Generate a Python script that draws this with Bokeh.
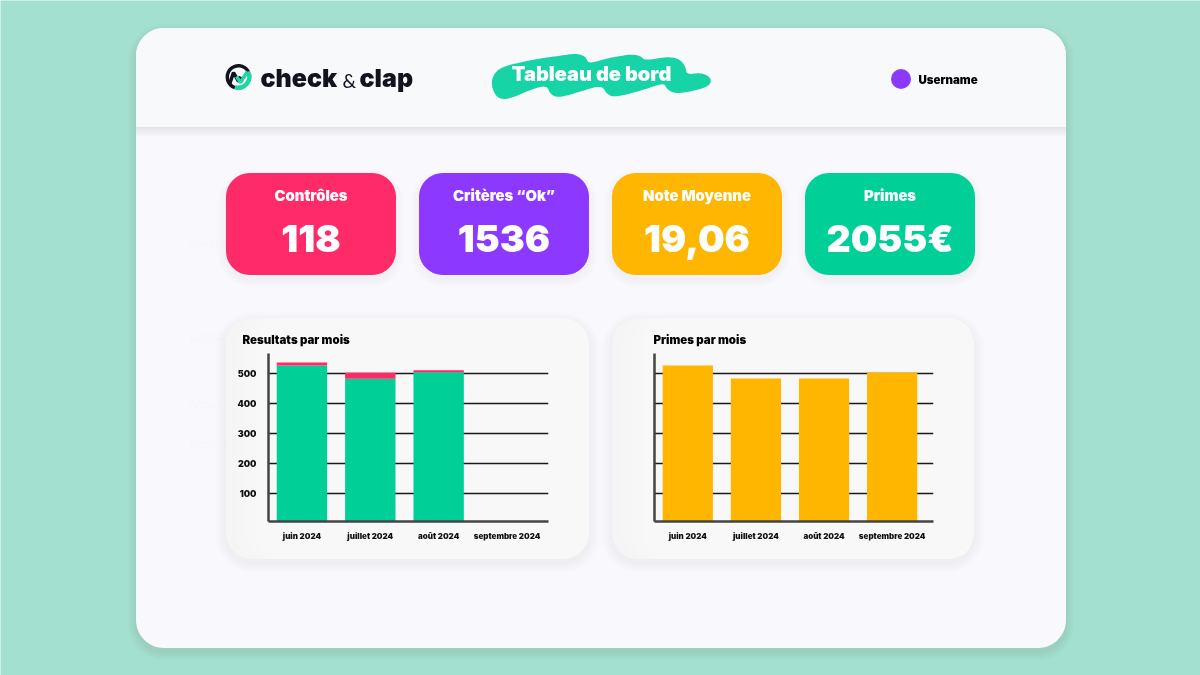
import numpy as np
from bokeh.core.properties import value
from bokeh.embed import file_html
from bokeh.models import FixedTicker, Range1d, Title
from bokeh.plotting import figure
from bokeh.resources import INLINE

# kpi cards
kpi_labels = ["Contrôles", "Critères “Ok”", "Note Moyenne", "Primes"]
kpi_values = ["118", "1536", "19,06", "2055€"]
kpi_colors = ["#ff2a68", "#8c38ff", "#ffb600", "#00d097"]
kpi_left = [225.5, 418.5, 611.5, 804.5]

# charts
months = ["juin 2024", "juillet 2024", "août 2024", "septembre 2024"]
res_ok = [526, 482, 504, 0]
res_ko = [10, 20, 6, 0]
primes = [526, 483, 483, 503]
y_ticks = [100, 200, 300, 400, 500]

# the menu that shows through faintly behind the cards
ghost_labels = ["Contrôles", "Calendrier", "Reports", "Account", "Settings"]
ghost_y = [242, 335, 340, 403, 443]

FONT = "Inter Black, Inter"


def rounded(x0, y0, x1, y1, r, corners=(1, 1, 1, 1)):
    # outline of a rounded box, page pixels with y going down
    xs, ys = [], []
    centres = [(x0 + r, y0 + r, 180), (x1 - r, y0 + r, 270), (x1 - r, y1 - r, 0), (x0 + r, y1 - r, 90)]
    boxes = [(x0, y0), (x1, y0), (x1, y1), (x0, y1)]
    for (cx, cy, a), on, box_pt in zip(centres, corners, boxes):
        if on:
            t = np.radians(np.linspace(a, a + 90, 14))
            xs += list(cx + r * np.cos(t))
            ys += list(cy + r * np.sin(t))
        else:
            xs.append(box_pt[0])
            ys.append(box_pt[1])
    return xs, ys


def box(p, x0, y0, x1, y1, r, color, shadow=0, corners=(1, 1, 1, 1), drop=4, alpha=0.006):
    for i in range(shadow, 0, -1):
        xs, ys = rounded(x0 - i, y0 - i + drop, x1 + i, y1 + i + drop, r + i, corners)
        p.patch(xs, ys, color="#50607a", alpha=alpha, line_color=None)
    xs, ys = rounded(x0, y0, x1, y1, r, corners)
    p.patch(xs, ys, color=color, line_color=None)


def smooth(pts, n=3):
    pts = np.array(pts, dtype=float)
    for _ in range(n):
        nxt = np.roll(pts, -1, axis=0)
        pts = np.column_stack([0.75 * pts + 0.25 * nxt, 0.25 * pts + 0.75 * nxt]).reshape(-1, 2)
    return pts


def text(p, x, y, s, size, color="#000000", align="center", style="bold", font=FONT):
    p.text([x], [y], [s], text_font=value(font), text_font_size=f"{size}px", text_font_style=style,
           text_color=color, text_align=align, text_baseline="middle")


page = figure(width=1200, height=675, x_range=(0, 1200), y_range=(675, 0), output_backend="svg",
              toolbar_location=None, min_border=0, background_fill_color="#a3e0cf",
              border_fill_color="#a3e0cf", outline_line_color=None)
page.axis.visible = False
page.grid.visible = False
page.styles = {"position": "fixed", "left": "0px", "top": "0px"}

box(page, 135.5, 27.5, 1065.5, 647.5, 28, "#f8f8fd", shadow=8, alpha=0.01)
for label, gy in zip(ghost_labels, ghost_y):
    text(page, 189, gy, label, 10, "#f5f5fa", "left", "normal", font="Inter")

# header with its shadow falling on the page only
for i in range(10, 0, -1):
    page.quad(left=[135.5], right=[1065.5], top=[100], bottom=[126.5 + i], color="#50607a", alpha=0.012, line_color=None)
box(page, 135.5, 27.5, 1065.5, 126.5, 28, "#f8f9fb", corners=(1, 1, 0, 0))

# logo
page.annular_wedge([238], [76.5], inner_radius=8.5, outer_radius=13, start_angle=[-1.9], end_angle=[0.5],
                   color="#1dd6a4", line_color=None)
page.annular_wedge([238], [76.5], inner_radius=9.5, outer_radius=13, start_angle=[0.5], end_angle=[4.38],
                   color="#11131f", line_color=None)
page.line([229, 233, 238, 240], [84, 72, 81, 76], line_color="#11131f", line_width=3.5)
page.line([236, 240, 247], [76, 82, 71], line_color="#1dd6a4", line_width=3.5)
text(page, 260, 77, "check", 25, "#11131f", "left")
text(page, 342, 80, "&", 19, "#11131f", "left", "normal", font="Lato")
text(page, 359, 77, "clap", 25, "#11131f", "left")

# title blob
blob = [(842, 130), (855, 95), (885, 78), (960, 60), (1050, 47), (1100, 40), (1128, 50), (1135, 72),
        (1190, 55), (1265, 42), (1292, 48), (1305, 62), (1370, 50), (1408, 56), (1427, 80), (1430, 104),
        (1470, 98), (1497, 108), (1505, 125), (1490, 142), (1440, 155), (1395, 161), (1370, 147),
        (1362, 128), (1300, 150), (1215, 172), (1190, 162), (1175, 135), (1110, 155), (1045, 174),
        (1020, 162), (1010, 135), (960, 150), (890, 180), (858, 172)]
blob = smooth(blob)
page.patch(blob[:, 0] / 3 + 209.5, blob[:, 1] / 3 + 39.5, color="#17d4a6", line_color=None)
text(page, 591, 73, "Tableau de bord", 20, "#ffffff")

# user
page.scatter([900.5], [78.5], size=20, color="#8c38ff", line_color=None)
text(page, 918, 79, "Username", 11.5, "#000000", "left")

# kpi
for left, label, val, color in zip(kpi_left, kpi_labels, kpi_values, kpi_colors):
    box(page, left, 172.5, left + 170, 274.5, 24, color, shadow=8)
    text(page, left + 85, 195, label, 14.8, "#ffffff")
    text(page, left + 85, 237.5, val, 37.5, "#ffffff")


# chart cards, going from grey on the left to white on the right
def chart_card(x0, x1):
    box(page, x0, 317.5, x1, 558.5, 26, "#f5f5f6", shadow=10)
    for k in range(1, 21):
        xs, ys = rounded(x0 + k * 10, 317.5, x1, 558.5, 26)
        page.patch(xs, ys, color="#ffffff", alpha=0.12, line_color=None)


chart_card(225.5, 588.5)
chart_card(611.5, 973.5)


def chart(left, title, offset, y_labels, width):
    c = figure(width=width, height=241, x_range=Range1d(-0.489, 3.607), y_range=Range1d(8, 566),
               output_backend="svg", toolbar_location=None, min_border_left=42, min_border_right=41,
               min_border_top=35, min_border_bottom=38, background_fill_alpha=0, border_fill_alpha=0,
               outline_line_color=None)
    c.styles = {"position": "fixed", "left": f"{left}px", "top": "318px"}
    c.add_layout(Title(text=title, text_font=FONT, text_font_size="11.5px", text_font_style="bold",
                       text_color="#000000", offset=offset, standoff=13), "above")
    c.xgrid.visible = False
    c.ygrid.ticker = FixedTicker(ticks=y_ticks)
    c.ygrid.grid_line_color = "#1a1a1a"
    c.ygrid.grid_line_width = 1.5
    c.xaxis.ticker = FixedTicker(ticks=list(range(len(months))))
    c.xaxis.major_label_overrides = dict(enumerate(months))
    c.yaxis.ticker = FixedTicker(ticks=y_ticks)
    c.axis.major_tick_line_color = None
    c.axis.minor_tick_line_color = None
    c.axis.axis_line_color = "#444444"
    c.axis.axis_line_width = 2.5
    c.axis.major_label_text_font = FONT
    c.axis.major_label_text_font_style = "bold"
    c.axis.major_label_text_color = "#111111"
    c.xaxis.major_label_text_font_size = "8px"
    c.yaxis.major_label_text_font_size = "9px"
    c.xaxis.major_label_standoff = 3
    c.yaxis.major_label_standoff = 6
    if not y_labels:
        c.yaxis.major_label_text_color = None
    return c


idx = list(range(len(months)))

res = chart(225.5, "Resultats par mois", -26, True, 363)
res_top = [a + b for a, b in zip(res_ok, res_ko)]
res.vbar(x=idx, bottom=0, top=res_ok, width=0.737, color="#00d097", line_color=None)
res.vbar(x=idx, bottom=res_ok, top=res_top, width=0.737, color="#ff2a68", line_color=None)

pri = chart(611.5, "Primes par mois", -1, False, 362)
pri.vbar(x=idx, bottom=0, top=primes, width=0.737, color="#ffb600", line_color=None)

open("out.html", "w").write(file_html([page, res, pri], INLINE))
